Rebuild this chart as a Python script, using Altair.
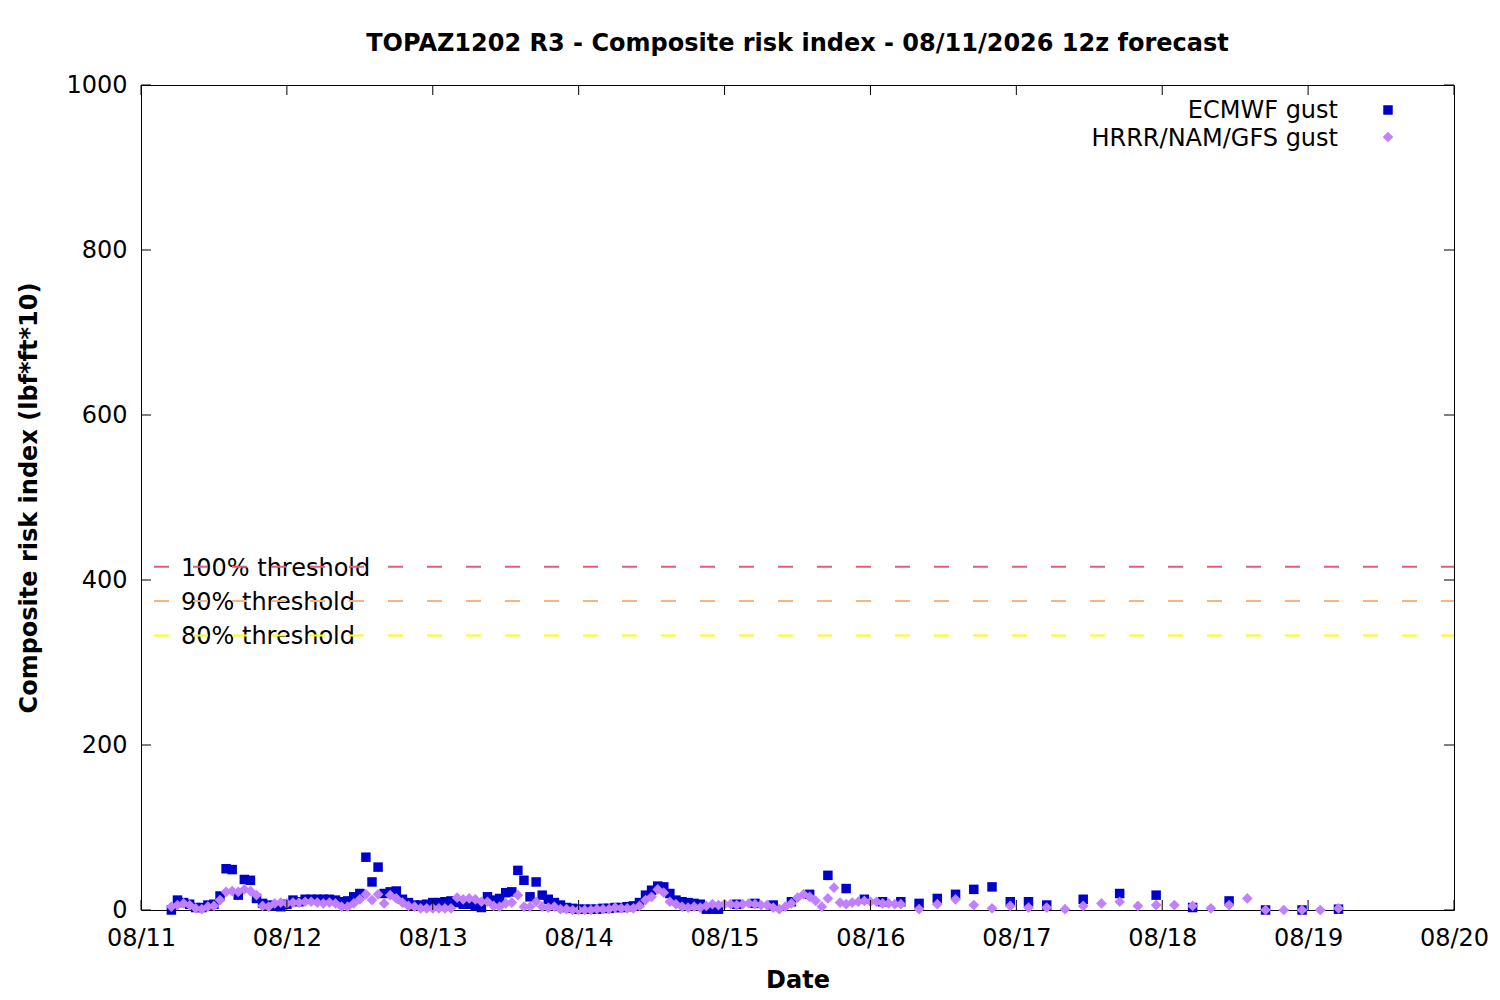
import altair as alt
import pandas as pd

# ---- data ----
ecmwf_hours = list(range(5, 96)) + list(range(98, 150, 3)) + list(range(155, 198, 6))
ecmwf_values = [
    0, 12, 9, 7, 3, 3, 6, 7, 17, 50, 49, 18, 37, 36, 14, 8, 6, 5, 4, 7, 12, 10, 13, 13,
    13, 13, 13, 12, 10, 11, 16, 20, 64, 34, 52, 20, 22, 23, 13, 9, 6, 6, 7, 9, 9, 10, 11, 9, 7,
    7, 5, 3, 16, 12, 14, 21, 22, 48, 36, 16, 34, 18, 13, 9, 6, 3, 2, 1, 1, 1, 1, 2, 2,
    3, 3, 4, 5, 9, 18, 24, 29, 28, 20, 12, 10, 9, 8, 7, 1, 1, 1,
    7, 8, 6, 10, 19, 42, 26, 13, 10, 10, 8, 14, 19, 25, 28, 10, 10, 6,
    13, 20, 18, 3, 11, 0, 0, 1,
]
hrrr_hours = list(range(5, 126)) + list(range(128, 198, 3))
hrrr_values = [
    4, 6, 8, 6, 2, 1, 4, 5, 12, 22, 23, 22, 25, 23, 18, 5, 4, 8, 9, 8, 9, 9, 10, 10,
    9, 8, 9, 8, 4, 4, 8, 13, 19, 12, 19, 8, 18, 14, 9, 5, 4, 2, 2, 2, 2, 2, 2, 15, 13,
    14, 13, 10, 10, 5, 4, 8, 9, 18, 4, 4, 10, 4, 3, 4, 1, 1, 0, 0, 0, 0, 1, 1, 1,
    3, 2, 2, 2, 5, 12, 16, 25, 21, 10, 7, 4, 3, 4, 3, 5, 7, 6, 7, 7, 6, 7, 8, 7, 6,
    6, 3, 1, 4, 8, 15, 19, 16, 11, 4, 14, 27, 9, 7, 9, 10, 11, 10, 10, 8, 8, 7, 7,
    1, 7, 13, 6, 2, 5, 3, 3, 1, 5, 8, 10, 5, 6, 6, 5, 2, 6, 14, 0, 0, 0, 0, 2,
]
series_names = ["ECMWF gust", "HRRR/NAM/GFS gust"]
series_colors = ["#0000cc", "#c080ff"]

threshold_labels = ["100% threshold", "90% threshold", "80% threshold"]
threshold_values = [416, 374.4, 332.8]
threshold_colors = ["#e35d78", "#fbb47a", "#ffff00"]

tick_labels = ["08/11", "08/12", "08/13", "08/14", "08/15", "08/16", "08/17", "08/18", "08/19", "08/20"]
y_ticks = [0, 200, 400, 600, 800, 1000]

base_day = pd.Timestamp("2026-08-11")


def iso(hours):
    return [(base_day + pd.Timedelta(hours=h)).strftime("%Y-%m-%dT%H:%M:%SZ") for h in hours]


tick_dates = [(base_day + pd.Timedelta(days=i)).strftime("%Y-%m-%dT%H:%M:%SZ") for i in range(len(tick_labels))]

ec_df = pd.DataFrame({"t": iso(ecmwf_hours), "v": ecmwf_values})
hr_df = pd.DataFrame({"t": iso(hrrr_hours), "v": hrrr_values})
th_df = pd.DataFrame({"label": threshold_labels, "v": threshold_values})
xt_df = pd.DataFrame({"t": tick_dates})
yt_df = pd.DataFrame({"v": y_ticks})
lg_df = pd.DataFrame({"name": series_names})

W, H = 1313, 825
FONT = "DejaVu Sans"
FS = 24

xscale = alt.Scale(type="utc",
                   domain=[alt.DateTime(year=2026, month=8, date=11, utc=True),
                           alt.DateTime(year=2026, month=8, date=20, utc=True)])
yscale = alt.Scale(domain=[0, 1000], nice=False)

label_list = "[" + ",".join("'%s'" % s for s in tick_labels) + "]"
xaxis = alt.Axis(values=[alt.DateTime(year=2026, month=8, date=11 + i, utc=True) for i in range(len(tick_labels))],
                 labelExpr=label_list + "[round((datum.value - utc(2026,7,11)) / 86400000)]",
                 title="Date", ticks=False, domain=False, grid=False, labelFlush=False,
                 labelPadding=16, titlePadding=18)
yaxis = alt.Axis(values=y_ticks, format="d", title="Composite risk index (lbf*ft*10)", ticks=False, domain=False,
                 grid=False, labelPadding=14, titlePadding=24, labelFlush=False)

ecmwf = alt.Chart(ec_df).mark_square(size=90, color=series_colors[0], opacity=1).encode(
    x=alt.X("t:T", scale=xscale, axis=xaxis),
    y=alt.Y("v:Q", scale=yscale, axis=yaxis),
)
hrrr = alt.Chart(hr_df).mark_point(shape="diamond", filled=True, size=115, color=series_colors[1], opacity=1).encode(
    x=alt.X("t:T", scale=xscale),
    y=alt.Y("v:Q", scale=yscale),
)

th_text = alt.Chart(th_df).mark_text(align="left", baseline="middle", fontSize=FS, font=FONT, color="black",
                                     dy=2).encode(
    x=alt.value(40), y=alt.Y("v:Q", scale=yscale), text="label:N"
)
th_rules = alt.Chart(th_df).mark_rule(strokeDash=[15, 24], strokeDashOffset=2, strokeWidth=2).encode(
    y=alt.Y("v:Q", scale=yscale),
    color=alt.Color("label:N", scale=alt.Scale(domain=threshold_labels, range=threshold_colors), legend=None),
)

xt_bottom = alt.Chart(xt_df).mark_rule(color="black", strokeWidth=1).encode(
    x=alt.X("t:T", scale=xscale), y=alt.value(H), y2=alt.value(H - 10))
xt_top = alt.Chart(xt_df).mark_rule(color="black", strokeWidth=1).encode(
    x=alt.X("t:T", scale=xscale), y=alt.value(0), y2=alt.value(10))
yt_left = alt.Chart(yt_df).mark_rule(color="black", strokeWidth=1).encode(
    y=alt.Y("v:Q", scale=yscale), x=alt.value(0), x2=alt.value(10))
yt_right = alt.Chart(yt_df).mark_rule(color="black", strokeWidth=1).encode(
    y=alt.Y("v:Q", scale=yscale), x=alt.value(W), x2=alt.value(W - 10))

lg_text1 = alt.Chart(lg_df.iloc[[0]]).mark_text(align="right", baseline="middle", fontSize=FS, font=FONT,
                                                 color="black").encode(
    x=alt.value(1197), y=alt.value(26), text="name:N")
lg_text2 = alt.Chart(lg_df.iloc[[1]]).mark_text(align="right", baseline="middle", fontSize=FS, font=FONT,
                                                 color="black").encode(
    x=alt.value(1197), y=alt.value(54), text="name:N")
lg_sym1 = alt.Chart(lg_df.iloc[[0]]).mark_square(size=90, color=series_colors[0], opacity=1).encode(
    x=alt.value(1247), y=alt.value(25))
lg_sym2 = alt.Chart(lg_df.iloc[[1]]).mark_point(shape="diamond", filled=True, size=115, color=series_colors[1],
                                                opacity=1).encode(
    x=alt.value(1247), y=alt.value(52))

chart = alt.layer(
    th_text, th_rules, ecmwf, hrrr, xt_bottom, xt_top, yt_left, yt_right,
    lg_text1, lg_text2, lg_sym1, lg_sym2,
).properties(
    width=W, height=H,
    title=alt.Title("TOPAZ1202 R3 - Composite risk index - 08/11/2026 12z forecast",
                    fontSize=FS, font=FONT, fontWeight="bold", color="black", anchor="middle", offset=17),
    autosize=alt.AutoSizeParams(type="none"),
    padding={"left": 133, "top": 77, "right": 38, "bottom": 82},
).configure_view(
    stroke="black", strokeWidth=1
).configure_axis(
    labelFont=FONT, labelFontSize=FS, labelColor="black",
    titleFont=FONT, titleFontSize=FS, titleFontWeight="bold", titleColor="black",
)

chart.save("out.html", embed_options={"renderer": "svg", "actions": False})
